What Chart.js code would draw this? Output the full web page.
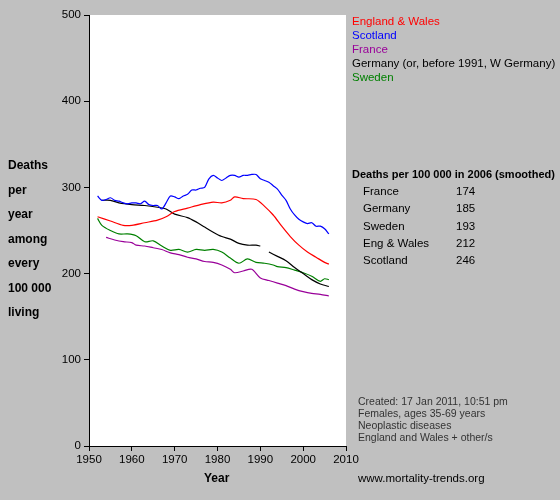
<!DOCTYPE html><html><head><script src="https://cdn.jsdelivr.net/npm/chart.js@4"></script>
<style>body{margin:0;background:#c0c0c0}</style></head><body>
<div style="width:560px;height:500px"><canvas id="c"></canvas></div>
<script>
const ewYears=[1952,1955,1958,1960,1963,1966,1968,1970,1973,1976,1979,1981,1983,1984,1986,1989,1991,1993,1995,1997,1999,2001,2003,2005,2006];
const ewVals=[266,261,256,256,259,262,266,272,276,280,283,282,285,289,287,286,278,268,255,243,233,225,219,213,211];
const scYears=[];for(let y=1952;y<=2006;y++)scYears.push(y);
const scVals=[290,285,286,288,285,284,282,281,282,282,281,284,280,279,279,275,282,290,289,287,290,292,297,297,299,300,310,314,311,308,311,314,314,312,314,314,315,315,310,308,306,302,298,291,285,275,268,263,260,258,259,255,255,252,246];
const frYears=[1954,1956,1958,1960,1961,1963,1965,1967,1969,1971,1973,1975,1977,1979,1981,1983,1984,1986,1988,1990,1992,1994,1996,1998,2000,2002,2004,2006];
const frVals=[242,239,237,236,233,232,230,228,224,222,219,217,214,213,210,205,201,203,205,195,192,189,186,182,179,177,176,174];
const deYears=[1953,1955,1957,1960,1963,1966,1968,1970,1973,1975,1977,1979,1981,1983,1985,1987,1989,1990,1991,1992,1994,1996,1998,2000,2002,2004,2006];
const deVals=[285,285,282,280,279,277,275,269,265,260,254,248,243,240,235,233,233,232,null,225,220,215,207,200,193,188,185];
const seYears=[1952,1953,1955,1957,1959,1961,1963,1965,1967,1969,1971,1973,1975,1977,1979,1981,1983,1985,1987,1989,1991,1993,1994,1996,1998,2000,2002,2004,2005,2006];
const seVals=[264,256,250,246,246,244,237,238,232,227,228,225,228,227,228,225,218,212,217,213,212,210,208,207,204,201,197,191,194,193];
const names=['England & Wales','Scotland','France','Germany (or, before 1991, W Germany)','Sweden'];
const colors=['#ff0000','#0000ff','#990099','#000000','#008000'];
const yTicks=[0,100,200,300,400,500];
const xTicks=[1950,1960,1970,1980,1990,2000,2010];
const tableRows=[['France','174'],['Germany','185'],['Sweden','193'],['Eng & Wales','212'],['Scotland','246']];
const ser=[[ewYears,ewVals],[scYears,scVals],[frYears,frVals],[deYears,deVals],[seYears,seVals]];
const F='"Liberation Sans", Arial, sans-serif';
const deco={id:'deco',
beforeDraw(ch){const c=ch.ctx,a=ch.chartArea;c.save();c.fillStyle='#c0c0c0';c.fillRect(0,0,ch.width,ch.height);c.fillStyle='#fff';c.fillRect(a.left,a.top,a.right-a.left,a.bottom-a.top);c.restore();},
afterDraw(ch){const c=ch.ctx;c.save();c.textBaseline='middle';
c.font='bold 12px '+F;c.fillStyle='#000';
['Deaths','per','year','among','every','100 000','living'].forEach((t,i)=>c.fillText(t,8,166+i*24.5));
c.fillText('Year',204,479);
c.font='11.5px '+F;
names.forEach((n,i)=>{c.fillStyle=colors[i];c.fillText(n,352,22+i*14);});
c.fillStyle='#000';c.font='bold 11px '+F;c.fillText('Deaths per 100 000 in 2006 (smoothed)',352,175);
c.font='11.5px '+F;
tableRows.forEach((r,i)=>{c.fillText(r[0],363,192+i*17.3);c.fillText(r[1],456,192+i*17.3);});
c.font='10.5px '+F;c.fillStyle='#333';
['Created: 17 Jan 2011, 10:51 pm','Females, ages 35-69 years','Neoplastic diseases','England and Wales + other/s'].forEach((t,i)=>c.fillText(t,358,402+i*12));
c.font='11.5px '+F;c.fillStyle='#000';c.fillText('www.mortality-trends.org',358,479);
c.restore();}};
new Chart(document.getElementById('c'),{type:'line',
data:{datasets:ser.map((s,i)=>({label:names[i],data:s[0].map((y,j)=>({x:y,y:s[1][j]})),borderColor:colors[i],borderWidth:1.2,pointRadius:0,tension:0.3,spanGaps:false}))},
options:{responsive:true,maintainAspectRatio:false,animation:false,
layout:{padding:{top:15,right:214,left:0,bottom:0}},
plugins:{legend:{display:false},tooltip:{enabled:false}},
scales:{
x:{type:'linear',min:1950,max:2010,afterBuildTicks(s){s.ticks=xTicks.map(v=>({value:v}));},afterFit(s){s.height=54;},
grid:{drawOnChartArea:false,tickLength:5,color:'#000'},border:{color:'#000'},ticks:{color:'#000',font:{family:F,size:11.5},padding:2,callback:v=>String(v)}},
y:{min:0,max:500,afterBuildTicks(s){s.ticks=yTicks.map(v=>({value:v}));},afterFit(s){s.width=89;},
grid:{drawOnChartArea:false,tickLength:5,color:'#000'},border:{color:'#000'},ticks:{color:'#000',font:{family:F,size:11.5},padding:3}}}},
plugins:[deco]});
</script></body></html>
